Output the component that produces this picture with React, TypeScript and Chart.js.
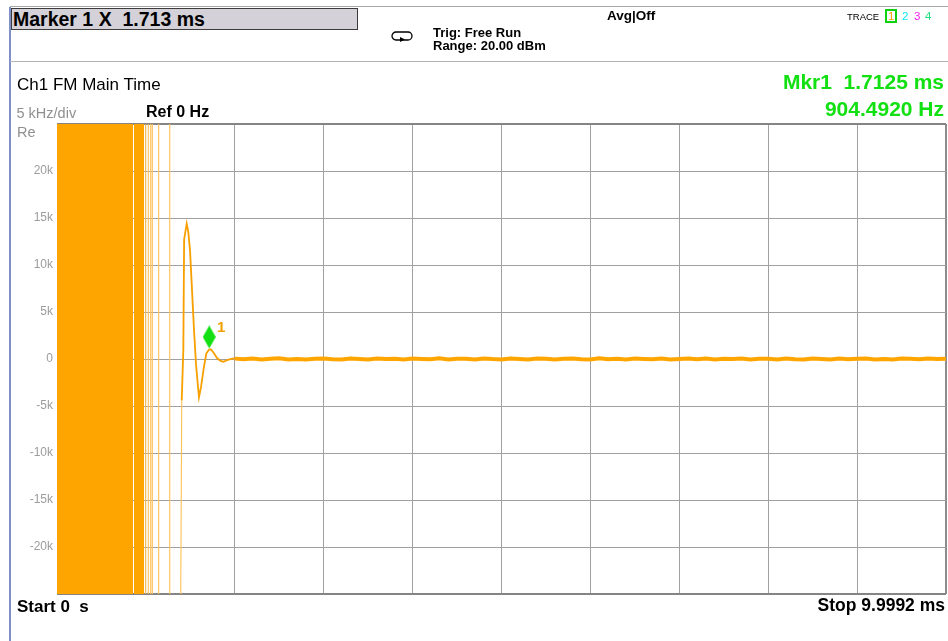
import React, { useEffect, useRef } from 'react';
import { Chart, registerables } from 'chart.js';

Chart.register(...registerables);

// ---- axis ranges ----
const xMinMs = 0;
const xMaxMs = 10;
const xStepMs = 1;
const yMinHz = -25000;
const yMaxHz = 25000;
const yStepHz = 5000;

// ---- clipped burst at the start (signal beyond both rails) ----
const railHz = 40000;
const burstStartMs = [0, 0.866];
const burstEndMs = [0.855, 0.98];

// ---- transient (ms, Hz) ----
const transientMs = [0.998, 0.998, 1.027, 1.027, 1.054, 1.054, 1.072, 1.072, 1.144, 1.144, 1.268, 1.268, 1.384,
  1.403, 1.421, 1.43, 1.459, 1.477, 1.496, 1.519, 1.541, 1.564, 1.597, 1.62, 1.65, 1.68, 1.71, 1.732, 1.76, 1.8,
  1.84, 1.871, 1.92, 1.983, 2.0];
const transientHz = [-40000, 40000, 40000, -40000, -40000, 40000, 40000, -40000, -40000, 40000, 40000, -40000, -40000,
  -4400, 950, 12700, 14400, 13500, 11600, 7300, 3100, -600, -4070, -3000, -1000, 600, 1000, 1010, 700, 100,
  -200, -290, -100, 60, 40];

// ---- settled noise floor, sampled every 0.1 ms from 2.0 ms ----
const noiseStartMs = 2.0;
const noiseStepMs = 0.1;
const noiseHz = [40, -30, 60, -50, 20, 70, -40, 10, -60, 30,
  50, -20, -50, 40, 10, -40, 60, -10, 20, -60,
  40, 10, -30, 70, -40, 20, 30, -50, 50, -10,
  -40, 60, 0, -50, 40, 30, -60, 20, 50, -20,
  -40, 70, -20, 30, -50, 40, 10, -30, 60, -50,
  10, 40, -30, 50, -40, 20, -10, 50, -60, 30,
  20, -50, 60, -20, -40, 40, 10, -50, 50, -30,
  30, 50, -40, 10, -60, 40, 20, -30, 50, -10, 30];

// ---- marker ----
const markerMs = [1.7125];
const markerHz = [904.492];
const markerLabels = ['1'];

const ORANGE = '#FFA500';
const GREEN = '#12E012';
const FONT = '"Liberation Sans", Arial, sans-serif';

function makeDiamond(): HTMLCanvasElement {
  const c = document.createElement('canvas');
  c.width = 13;
  c.height = 50;
  const g = c.getContext('2d')!;
  g.fillStyle = GREEN;
  g.beginPath();
  g.moveTo(6.5, 0);
  g.lineTo(13, 11.5);
  g.lineTo(6.5, 23);
  g.lineTo(0, 11.5);
  g.closePath();
  g.fill();
  return c;
}

function ChartCanvas() {
  const ref = useRef<HTMLCanvasElement | null>(null);
  useEffect(() => {
    if (!ref.current) return;
    const diamond = makeDiamond();
    const burstSets = burstStartMs.map((s, i) => ({
      label: 'burst' + i,
      data: [{ x: s, y: railHz }, { x: burstEndMs[i], y: railHz }],
      fill: { value: -railHz },
      backgroundColor: ORANGE,
      borderColor: 'rgba(0,0,0,0)',
      borderWidth: 0,
      pointRadius: 0,
    }));
    const transient = transientMs.map((x, i) => ({ x, y: transientHz[i] }));
    const noise = noiseHz.map((y, i) => ({ x: noiseStartMs + i * noiseStepMs, y }));
    const markers = markerMs.map((x, i) => ({ x, y: markerHz[i] }));
    const markerIndex = burstSets.length + 2;

    const labelPlugin = {
      id: 'markerLabel',
      afterDatasetsDraw(chart: any) {
        const meta = chart.getDatasetMeta(markerIndex);
        const ctx = chart.ctx;
        ctx.save();
        ctx.fillStyle = '#F0A000';
        ctx.font = `bold 15px ${FONT}`;
        ctx.textAlign = 'center';
        ctx.textBaseline = 'middle';
        meta.data.forEach((pt: any, i: number) => {
          ctx.fillText(markerLabels[i], pt.x + 12, pt.y - 23);
        });
        ctx.restore();
      },
    };

    const noPad = (s: any) => {
      s.paddingLeft = 0;
      s.paddingRight = 0;
      s.paddingTop = 0;
      s.paddingBottom = 0;
    };

    const chart = new Chart(ref.current, {
      type: 'line',
      data: {
        datasets: [
          ...burstSets,
          {
            label: 'transient',
            data: transient,
            borderColor: '#F7A000',
            borderWidth: 1.2,
            pointRadius: 0,
            fill: false,
            segment: {
              borderWidth: (c: any) => (c.p0.parsed.x >= 1.4 ? 1.8 : 1.1),
              borderColor: (c: any) => (c.p0.parsed.x < 1.4 ? '#FFC055' : '#F7A000'),
            },
          },
          {
            label: 'noise',
            data: noise,
            borderColor: ORANGE,
            borderWidth: 4,
            pointRadius: 0,
            fill: false,
          },
          {
            label: 'marker',
            data: markers,
            showLine: false,
            pointStyle: diamond,
            pointRadius: 10,
            backgroundColor: GREEN,
            borderColor: GREEN,
          },
        ] as any,
      },
      plugins: [labelPlugin],
      options: {
        animation: false,
        responsive: false,
        events: [],
        layout: { autoPadding: false, padding: { top: 124, right: 2, bottom: 47, left: 0 } },
        plugins: { legend: { display: false }, tooltip: { enabled: false } },
        scales: {
          x: {
            type: 'linear',
            min: xMinMs,
            max: xMaxMs,
            ticks: { stepSize: xStepMs, display: false },
            grid: {
              drawTicks: false,
              color: (c: any) => (c.tick && c.tick.value === xMaxMs ? '#8c8c8c' : '#a0a0a0'),
              lineWidth: (c: any) => (c.tick && c.tick.value === xMaxMs ? 2 : 1),
            },
            border: { display: false },
            afterFit: (s: any) => { s.height = 0; noPad(s); },
          },
          y: {
            type: 'linear',
            min: yMinHz,
            max: yMaxHz,
            ticks: {
              stepSize: yStepHz,
              padding: 4,
              color: '#9c9c9c',
              font: { family: FONT, size: 12 },
              callback: (v: any) => {
                const n = Number(v);
                if (n === yMinHz || n === yMaxHz) return '';
                if (n === 0) return '0';
                return `${n / 1000}k`;
              },
            },
            grid: {
              drawTicks: false,
              color: (c: any) => (c.tick && (c.tick.value === yMaxHz || c.tick.value === yMinHz) ? '#858585' : '#a0a0a0'),
              lineWidth: (c: any) => (c.tick && (c.tick.value === yMaxHz || c.tick.value === yMinHz) ? 2 : 1),
            },
            border: { display: false },
            afterFit: (s: any) => { s.width = 57; noPad(s); },
          },
        },
      } as any,
    });
    return () => chart.destroy();
  }, []);
  return (
    <canvas
      ref={ref}
      width={948}
      height={641}
      style={{ position: 'absolute', left: 0, top: 0, width: 948, height: 641 }}
    />
  );
}

const T = (props: { s: React.CSSProperties; children: React.ReactNode }) => (
  <div style={{ position: 'absolute', whiteSpace: 'pre', lineHeight: 1, ...props.s }}>{props.children}</div>
);

export default function App() {
  return (
    <div
      style={{
        position: 'fixed',
        left: 0,
        top: 0,
        width: 948,
        height: 641,
        background: '#ffffff',
        fontFamily: FONT,
        overflow: 'hidden',
      }}
    >
      <ChartCanvas />
      {/* frame lines */}
      <div style={{ position: 'absolute', left: 9, top: 7, width: 2, height: 634, background: '#7f8fc8' }} />
      <div style={{ position: 'absolute', left: 10, top: 6, width: 938, height: 1, background: '#a8a8a8' }} />
      <div style={{ position: 'absolute', left: 10, top: 61, width: 938, height: 1, background: '#b4b4b4' }} />

      {/* marker box */}
      <div
        style={{
          position: 'absolute',
          left: 11,
          top: 8,
          width: 347,
          height: 22,
          boxSizing: 'border-box',
          background: '#D4D1D8',
          border: '1px solid #3c3c3c',
        }}
      />
      <T s={{ left: 13, top: 10, fontSize: 19.5, fontWeight: 'bold', color: '#000' }}>Marker 1 X  1.713 ms</T>

      {/* trigger icon */}
      <svg style={{ position: 'absolute', left: 391, top: 31 }} width={23} height={11}>
        <rect x={1} y={1} width={20} height={8} rx={4} ry={4} fill="none" stroke="#000" strokeWidth={1.3} />
        <polygon points="9,6 14,8.5 9,11" fill="#000" />
      </svg>
      <T s={{ left: 433, top: 25.5, fontSize: 13, fontWeight: 'bold', color: '#000' }}>Trig: Free Run</T>
      <T s={{ left: 433, top: 39, fontSize: 13, fontWeight: 'bold', color: '#000' }}>Range: 20.00 dBm</T>
      <T s={{ left: 607, top: 9, fontSize: 13.5, fontWeight: 'bold', color: '#000' }}>Avg|Off</T>

      {/* trace indicator */}
      <T s={{ left: 847, top: 12, fontSize: 9.5, color: '#000' }}>TRACE</T>
      <div
        style={{
          position: 'absolute',
          left: 885,
          top: 9,
          width: 12,
          height: 14,
          boxSizing: 'border-box',
          border: '2px solid #10D010',
        }}
      />
      <T s={{ left: 888, top: 10.5, fontSize: 11.5, color: '#F59A00' }}>1</T>
      <T s={{ left: 902, top: 10.5, fontSize: 11.5, color: '#10E8F0' }}>2</T>
      <T s={{ left: 914, top: 10.5, fontSize: 11.5, color: '#F020F0' }}>3</T>
      <T s={{ left: 925, top: 10.5, fontSize: 11.5, color: '#20E080' }}>4</T>

      {/* channel info */}
      <T s={{ left: 17, top: 75.5, fontSize: 17, color: '#000' }}>Ch1 FM Main Time</T>
      <T s={{ left: 16.5, top: 106, fontSize: 14.5, color: '#909090' }}>5 kHz/div</T>
      <T s={{ left: 146, top: 104, fontSize: 16, fontWeight: 'bold', color: '#000' }}>Ref 0 Hz</T>
      <T s={{ left: 17, top: 125.3, fontSize: 14.5, color: '#909090' }}>Re</T>

      {/* marker readout */}
      <T s={{ right: 4, top: 71.2, fontSize: 21, fontWeight: 'bold', color: GREEN }}>Mkr1  1.7125 ms</T>
      <T s={{ right: 4, top: 97.8, fontSize: 21, fontWeight: 'bold', color: GREEN }}>904.4920 Hz</T>

      {/* start / stop */}
      <T s={{ left: 17, top: 597.7, fontSize: 17, fontWeight: 'bold', color: '#000' }}>Start 0  s</T>
      <T s={{ right: 3, top: 597, fontSize: 17.5, fontWeight: 'bold', color: '#000' }}>Stop 9.9992 ms</T>
    </div>
  );
}
